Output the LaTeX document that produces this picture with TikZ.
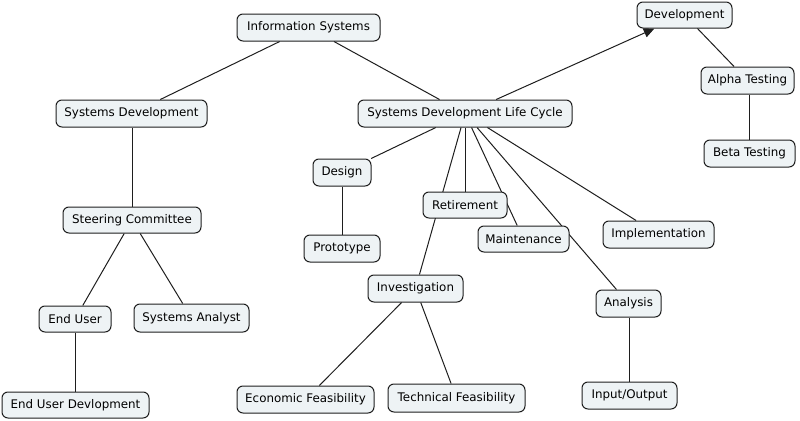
\documentclass[tikz,border=0pt]{standalone}
\usepackage{fontspec}
\setmainfont{DejaVu Sans}
\usetikzlibrary{backgrounds,arrows.meta}
\definecolor{boxfill}{RGB}{238,243,245}
\definecolor{edge}{RGB}{30,30,30}
\begin{document}
\begin{tikzpicture}[x=0.75pt,y=-0.75pt,
  box/.style={draw=edge, fill=boxfill, rounded corners=4.5pt, line width=0.75pt,
    inner sep=0pt, font=\fontsize{8.9}{10}\selectfont},
  sz/.style 2 args={minimum width={#1*0.75pt}, minimum height={#2*0.75pt}},
  link/.style={draw=edge, line width=0.75pt}]
\useasboundingbox (0,0) rectangle (800,421);
\node[box,sz={143}{27}] (is) at (308.5,27.5) {Information Systems};
\node[box,sz={151}{27}] (sd) at (131.5,113.5) {Systems Development};
\node[box,sz={214}{27}] (sdlc) at (465,113.5) {Systems Development Life Cycle};
\node[box,sz={95}{26}] (dev) at (684.5,15) {Development};
\node[box,sz={93}{27}] (alpha) at (747.5,80.5) {Alpha Testing};
\node[box,sz={91}{27}] (beta) at (749.5,153.5) {Beta Testing};
\node[box,sz={138}{26}] (steer) at (132,220) {Steering Committee};
\node[box,sz={58}{27}] (design) at (342,172.5) {Design};
\node[box,sz={76}{27}] (proto) at (342,248.5) {Prototype};
\node[box,sz={84}{26}] (ret) at (465,205) {Retirement};
\node[box,sz={91}{26}] (maint) at (523.5,239) {Maintenance};
\node[box,sz={111}{27}] (impl) at (658.5,234.5) {Implementation};
\node[box,sz={65}{27}] (anal) at (628.5,303.5) {Analysis};
\node[box,sz={95}{27}] (io) at (629.5,395.5) {Input/Output};
\node[box,sz={95}{27}] (inv) at (415.5,288.5) {Investigation};
\node[box,sz={137}{27}] (econ) at (305.5,399.5) {Economic Feasibility};
\node[box,sz={137}{28}] (tech) at (456.5,398) {Technical Feasibility};
\node[box,sz={72}{26}] (eu) at (75,319) {End User};
\node[box,sz={115}{28}] (sa) at (191.5,318) {Systems Analyst};
\node[box,sz={147}{26}] (eud) at (75.5,405) {End User Devlopment};
\begin{pgfonlayer}{background}
\draw[link] (is) -- (sd);
\draw[link] (is) -- (sdlc);
\draw[link,-{Triangle[length=8pt,width=7pt]}] (sdlc) -- (dev);
\draw[link] (dev) -- (alpha);
\draw[link] (beta |- alpha.south) -- (beta);
\draw[link] (steer |- sd.south) -- (steer);
\draw[link] (steer) -- (eu);
\draw[link] (steer) -- (sa);
\draw[link] (eud |- eu.south) -- (eud);
\draw[link] (sdlc) -- (design);
\draw[link] (design) -- (proto);
\draw[link] (sdlc) -- (ret);
\draw[link] (sdlc) -- (inv);
\draw[link] (sdlc) -- (maint);
\draw[link] (sdlc) -- (anal);
\draw[link] (sdlc) -- (impl);
\draw[link] (io |- anal.south) -- (io);
\draw[link] (inv) -- (econ);
\draw[link] (inv) -- (tech);
\end{pgfonlayer}
\end{tikzpicture}
\end{document}
